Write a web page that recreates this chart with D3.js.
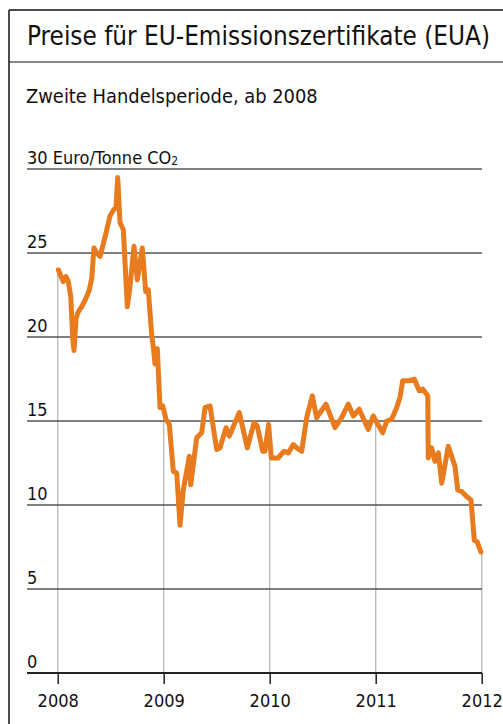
<!DOCTYPE html>
<html>
<head>
<meta charset="utf-8">
<style>
    body { margin: 0; background: #fff; }
    svg text { font-family: "Liberation Sans Narrow", "DejaVu Sans Condensed", "Roboto", sans-serif; fill: #111; }
    .grid line { stroke: #555; stroke-width: 1.4; }
    .vgrid line { stroke: #bbb; stroke-width: 1.4; }
</style>
</head>
<body>
<div id="containerChart"></div>
<script src="https://cdn.jsdelivr.net/npm/d3@7/dist/d3.min.js"></script>
<script>
    // EUA-Preis, Euro je Tonne CO2 (Zeit als Dezimaljahr)
    var years = [2008.006, 2008.038, 2008.053, 2008.078, 2008.100, 2008.123, 2008.142, 2008.154, 2008.173, 2008.194,
        2008.226, 2008.267, 2008.298, 2008.321, 2008.342, 2008.368, 2008.399, 2008.425, 2008.456, 2008.493,
        2008.531, 2008.550, 2008.566, 2008.588, 2008.619, 2008.657, 2008.682, 2008.720, 2008.751, 2008.798,
        2008.830, 2008.855, 2008.887, 2008.902, 2008.918, 2008.940, 2008.965, 2008.991, 2009.022, 2009.053,
        2009.091, 2009.123, 2009.154, 2009.185, 2009.242, 2009.255, 2009.311, 2009.358, 2009.390, 2009.437,
        2009.500, 2009.531, 2009.588, 2009.619, 2009.713, 2009.789, 2009.852, 2009.883, 2009.934, 2009.955,
        2009.990, 2010.015, 2010.081, 2010.135, 2010.175, 2010.223, 2010.255, 2010.302, 2010.349, 2010.402,
        2010.443, 2010.531, 2010.616, 2010.679, 2010.742, 2010.789, 2010.845, 2010.930, 2010.977, 2011.066,
        2011.104, 2011.151, 2011.198, 2011.229, 2011.255, 2011.317, 2011.364, 2011.411, 2011.443, 2011.491,
        2011.496, 2011.528, 2011.559, 2011.591, 2011.623, 2011.685, 2011.748, 2011.774, 2011.811, 2011.858,
        2011.899, 2011.930, 2011.958, 2011.993];
    var prices = [24.0, 23.5, 23.3, 23.6, 23.3, 22.4, 19.9, 19.2, 21.1, 21.5,
        21.8, 22.3, 22.8, 23.5, 25.3, 25.0, 24.8, 25.4, 26.2, 27.2,
        27.6, 27.7, 29.5, 26.8, 26.4, 21.8, 23.0, 25.4, 23.4, 25.3,
        22.7, 22.8, 20.1, 19.4, 18.4, 19.3, 15.8, 15.9, 15.1, 14.8,
        12.0, 11.9, 8.8, 10.9, 12.9, 11.2, 14.0, 14.3, 15.8, 15.9,
        13.3, 13.4, 14.6, 14.1, 15.5, 13.4, 14.9, 14.7, 13.2, 13.2,
        14.8, 12.8, 12.8, 13.2, 13.1, 13.6, 13.4, 13.2, 15.2, 16.5,
        15.2, 16.0, 14.6, 15.2, 16.0, 15.3, 15.7, 14.5, 15.3, 14.3,
        15.0, 15.1, 15.8, 16.4, 17.4, 17.4, 17.5, 16.8, 16.9, 16.5,
        12.8, 13.4, 12.6, 13.1, 11.3, 13.5, 12.3, 10.9, 10.8, 10.5,
        10.3, 7.9, 7.8, 7.2];
    var yearTicks = [2008, 2009, 2010, 2011, 2012];
    var valueTicks = [0, 5, 10, 15, 20, 25, 30];

    var svgWidth = 503, svgHeight = 724;
    var svg = d3.select("#containerChart").append("svg")
        .attr("width", svgWidth).attr("height", svgHeight);

    // Rahmen
    svg.append("line").attr("x1", 9).attr("x2", 9).attr("y1", 10).attr("y2", svgHeight)
        .attr("stroke", "#111").attr("stroke-width", 1.5);
    svg.append("line").attr("x1", 9).attr("x2", svgWidth).attr("y1", 10).attr("y2", 10)
        .attr("stroke", "#111").attr("stroke-width", 1.5);
    svg.append("line").attr("x1", 9).attr("x2", svgWidth).attr("y1", 62).attr("y2", 62)
        .attr("stroke", "#111").attr("stroke-width", 1.2);

    function fitText(sel, width) {
        var w = sel.node().getComputedTextLength();
        var fs = parseFloat(sel.attr("font-size"));
        sel.attr("font-size", (fs * width / w).toFixed(2));
    }

    var title = svg.append("text").attr("x", 27).attr("y", 45).attr("font-size", 24)
        .text("Preise für EU-Emissionszertifikate (EUA)");
    fitText(title, 463);

    var sub = svg.append("text").attr("x", 26).attr("y", 103).attr("font-size", 19)
        .text("Zweite Handelsperiode, ab 2008");
    fitText(sub, 292);

    var left = 27, right = 482;
    var xScale = d3.scaleLinear().domain([2008, 2012]).range([57.7, 481.7]);
    var yScale = d3.scaleLinear().domain([0, 30]).range([673, 169]);

    // Wert an einer Stelle (für senkrechte Hilfslinien bis zur Kurve)
    function valueAt(t) {
        var i = d3.bisectLeft(years, t);
        if (i <= 0) return prices[0];
        if (i >= years.length) return prices[prices.length - 1];
        var f = (t - years[i - 1]) / (years[i] - years[i - 1]);
        return prices[i - 1] + f * (prices[i] - prices[i - 1]);
    }

    svg.append("g").attr("class", "vgrid").selectAll("line")
        .data(yearTicks).enter().append("line")
        .attr("x1", function (d) { return xScale(d); })
        .attr("x2", function (d) { return xScale(d); })
        .attr("y1", yScale(0))
        .attr("y2", function (d) { return yScale(valueAt(d)); });

    svg.append("g").attr("class", "grid").selectAll("line")
        .data(valueTicks.filter(function (d) { return d > 0; })).enter().append("line")
        .attr("x1", left).attr("x2", right)
        .attr("y1", function (d) { return yScale(d); })
        .attr("y2", function (d) { return yScale(d); });

    // y labels
    var yl = svg.append("g").selectAll("text")
        .data(valueTicks).enter().append("text")
        .attr("x", left).attr("y", function (d) { return yScale(d) - 5; })
        .attr("font-size", 18);
    yl.text(function (d) { return d === 30 ? "30 Euro/Tonne CO" : d; });
    yl.filter(function (d) { return d === 30; }).append("tspan")
        .attr("font-size", 12).attr("dy", 1).text("2");

    // x axis
    var xAxis = d3.axisBottom(xScale).tickValues(yearTicks).tickFormat(d3.format("d"))
        .tickSize(11).tickPadding(10);
    var gx = svg.append("g").attr("transform", "translate(0," + yScale(0) + ")").call(xAxis);
    gx.select(".domain").remove();
    gx.selectAll(".tick line").attr("stroke", "#222").attr("stroke-width", 1.5);
    gx.selectAll(".tick text").attr("font-size", 18).attr("fill", "#111")
        .attr("font-family", null);
    svg.append("line").attr("x1", left).attr("x2", right)
        .attr("y1", yScale(0)).attr("y2", yScale(0))
        .attr("stroke", "#222").attr("stroke-width", 2);

    var line = d3.line()
        .x(function (d, i) { return xScale(years[i]); })
        .y(function (d) { return yScale(d); });

    svg.append("path").datum(prices)
        .attr("fill", "none")
        .attr("stroke", "#E87B1E")
        .attr("stroke-width", 5)
        .attr("stroke-linejoin", "round")
        .attr("stroke-linecap", "round")
        .attr("d", line);
</script>
</body>
</html>
